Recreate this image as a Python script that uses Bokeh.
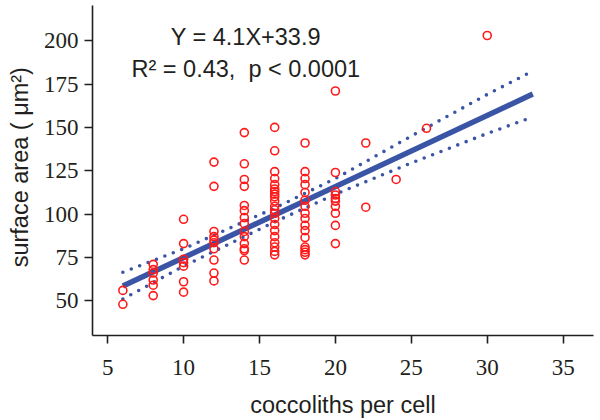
from bokeh.plotting import figure
from bokeh.models import Range1d, FixedTicker, ColumnDataSource
from bokeh.core.properties import value
from bokeh.embed import file_html
from bokeh.resources import INLINE

# ---- data ----
x_6 = [56, 48]
x_8 = [71, 68, 66, 62, 59, 53]
x_10 = [97, 83, 74, 72, 70, 61, 55]
x_12 = [130, 116, 90, 87, 85, 83.5, 80, 73.5, 66, 61.5]
x_14 = [147, 129, 120, 116, 105, 102, 98, 94.5, 90, 87, 83, 80, 79, 73.5]
x_16 = [150, 136.5, 124.5, 120.5, 117, 114.5, 113, 111.5, 110, 107.5, 104.5,
        102.5, 100.5, 97.5, 94, 90.5, 87, 83.5, 81, 78.5, 76.5]
x_18 = [141, 124.5, 120.5, 117, 112.5, 108, 104.5, 100.5, 97.5, 93.5, 90.5,
        86.5, 81, 79.5, 78, 76.5]
x_20 = [171, 124, 113, 111, 109, 107.5, 104.5, 100.5, 93.5, 83]
x_22 = [141, 104]
x_24 = [120]
x_26 = [149.5]
x_30 = [203]

columns = {6: x_6, 8: x_8, 10: x_10, 12: x_12, 14: x_14, 16: x_16, 18: x_18,
           20: x_20, 22: x_22, 24: x_24, 26: x_26, 30: x_30}

slope = 4.1
intercept = 33.9
fit_x = [6, 33]

band_x = [6, 10, 16, 20, 25, 30, 33]
band_upper = [66.5, 80, 103.5, 120.5, 145, 169, 182.5]
band_lower = [51, 70, 95.5, 111.5, 129.5, 146.5, 156]

x_ticks = [5, 10, 15, 20, 25, 30, 35]
y_ticks = [50, 75, 100, 125, 150, 175, 200]

eq_text = "Y = 4.1X+33.9"
stat_text = "R\u00b2 = 0.43,\u00a0 p < 0.0001"
x_label = "coccoliths per cell"
y_label = "\u00a0surface area ( \u03bcm\u00b2)"

# ---- build ----
px, py = [], []
for cx, vals in columns.items():
    for v in vals:
        px.append(cx)
        py.append(v)
fit_y = [slope * x + intercept for x in fit_x]

BLUE = "#3a55a5"
RED = "#ff1a1a"
INK = "#231f20"

p = figure(width=600, height=420, output_backend="svg", toolbar_location=None,
           x_range=Range1d(4, 37), y_range=Range1d(30, 220.3),
           min_border_left=92, min_border_right=7, min_border_top=5,
           min_border_bottom=81)
p.outline_line_color = None
p.xgrid.visible = False
p.ygrid.visible = False
p.background_fill_color = "white"
p.border_fill_color = "white"

p.line(band_x, band_upper, line_color=BLUE, line_width=3.6, line_dash="0 9",
       line_cap="round")
p.line(band_x, band_lower, line_color=BLUE, line_width=3.6, line_dash="0 9",
       line_cap="round")
p.line(fit_x, fit_y, line_color=BLUE, line_width=5.5)

p.scatter(px, py, marker="circle", size=8, fill_color=None,
          line_color=RED, line_width=1.6)

src = ColumnDataSource(dict(x=[14.1, 14.1], y=[202.3, 183.7], t=[eq_text, stat_text]))
p.text(x="x", y="y", text="t", source=src, text_align="center",
       text_baseline="alphabetic", text_font=value("Liberation Sans"),
       text_font_size="23.5px", text_color=INK)

for ax in (p.xaxis[0], p.yaxis[0]):
    ax.axis_line_color = INK
    ax.axis_line_width = 1.6
    ax.major_tick_line_color = INK
    ax.major_tick_line_width = 1.6
    ax.major_tick_in = 0
    ax.major_tick_out = 8
    ax.minor_tick_line_color = None
    ax.major_label_text_font = "Liberation Serif"
    ax.major_label_text_font_size = "23px"
    ax.major_label_text_color = INK
    ax.axis_label_text_font = "Liberation Sans"
    ax.axis_label_text_font_size = "23.5px"
    ax.axis_label_text_font_style = "normal"
    ax.axis_label_text_color = INK

p.xaxis.ticker = FixedTicker(ticks=x_ticks)
p.yaxis.ticker = FixedTicker(ticks=y_ticks)
p.xaxis.axis_label = x_label
p.yaxis.axis_label = y_label
p.xaxis.major_label_standoff = 16
p.yaxis.major_label_standoff = 6
p.xaxis.axis_label_standoff = 14
p.yaxis.axis_label_standoff = 8

open("out.html", "w").write(file_html(p, INLINE))
